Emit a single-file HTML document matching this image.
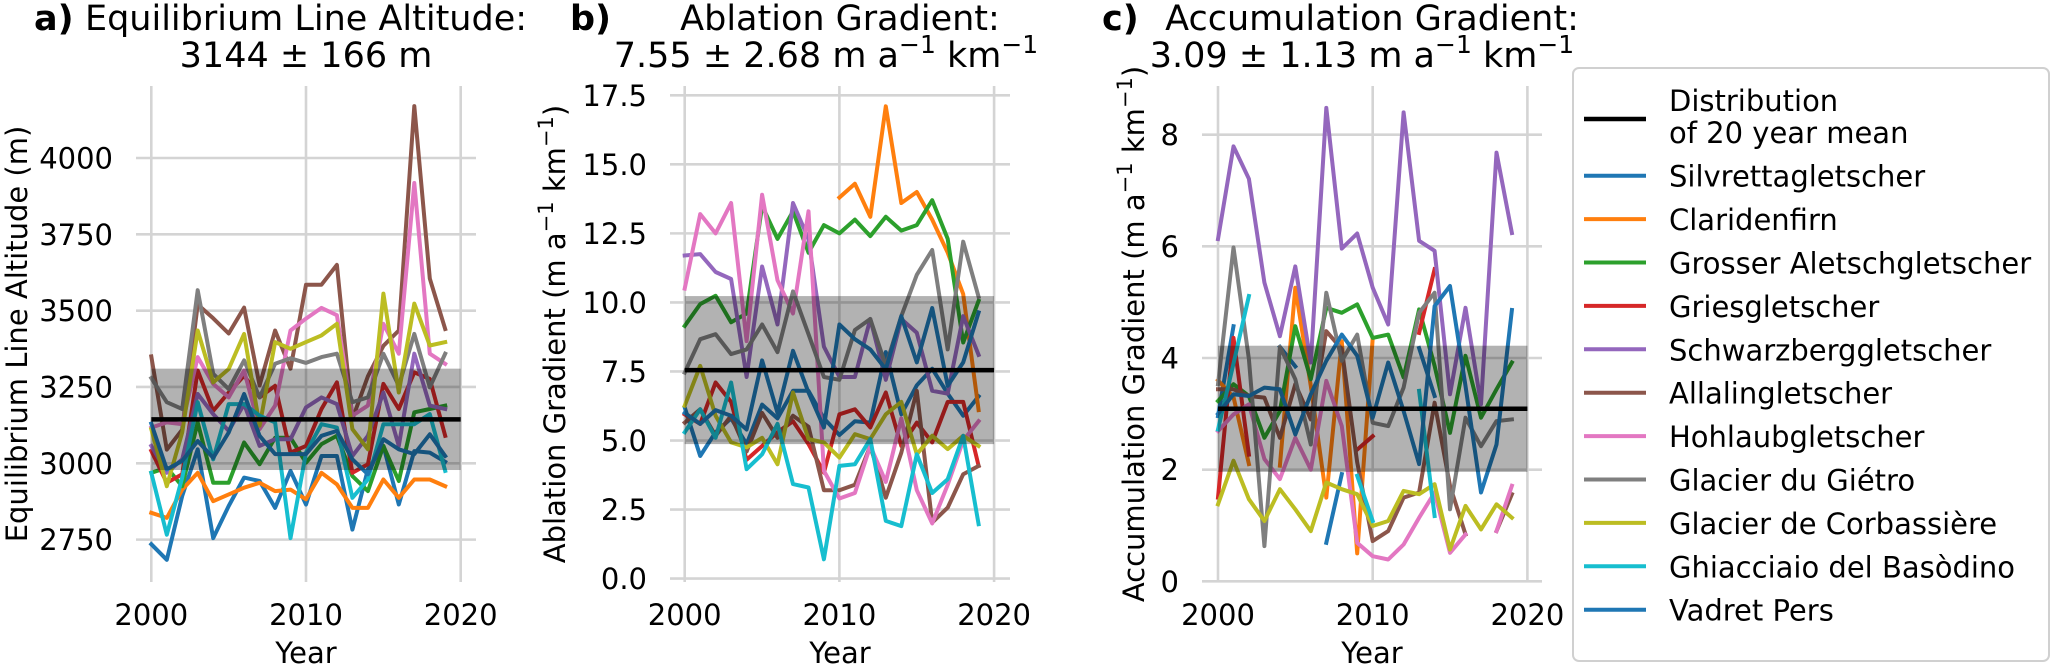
<!DOCTYPE html>
<html><head><meta charset="utf-8"><style>
html,body{margin:0;padding:0;background:#fff;}
svg{display:block;font-family:"DejaVu Sans","Liberation Sans",sans-serif;}
</style></head><body>
<svg id="fig" width="2051" height="666" viewBox="0 0 2051 666" xmlns="http://www.w3.org/2000/svg">
  <g font-size="35">
    <text x="34" y="30" font-weight="bold">a)</text>
    <text x="306" y="30" text-anchor="middle">Equilibrium Line Altitude:</text>
    <text x="306" y="67" text-anchor="middle">3144 ± 166 m</text>
  </g>
  <g font-size="35">
    <text x="570" y="30" font-weight="bold">b)</text>
    <text x="840" y="30" text-anchor="middle">Ablation Gradient:</text>
    <text x="826" y="67" text-anchor="middle">7.55 ± 2.68 m a<tspan font-size="25" baseline-shift="super">−1</tspan> km<tspan font-size="25" baseline-shift="super">−1</tspan></text>
  </g>
  <g font-size="35">
    <text x="1102" y="30" font-weight="bold">c)</text>
    <text x="1372" y="30" text-anchor="middle">Accumulation Gradient:</text>
    <text x="1362" y="67" text-anchor="middle">3.09 ± 1.13 m a<tspan font-size="25" baseline-shift="super">−1</tspan> km<tspan font-size="25" baseline-shift="super">−1</tspan></text>
  </g>
  <text transform="translate(27,334) rotate(-90)" text-anchor="middle" font-size="29">Equilibrium Line Altitude (m)</text>
  <text transform="translate(565,334) rotate(-90)" text-anchor="middle" font-size="29">Ablation Gradient (m a<tspan font-size="21" baseline-shift="super">−1</tspan> km<tspan font-size="21" baseline-shift="super">−1</tspan>)</text>
  <text transform="translate(1144,334) rotate(-90)" text-anchor="middle" font-size="29">Accumulation Gradient (m a<tspan font-size="21" baseline-shift="super">−1</tspan> km<tspan font-size="21" baseline-shift="super">−1</tspan>)</text>
  <g id="plots"></g>
  <g id="legend">
    <rect x="1573" y="68" width="476" height="593" rx="6" fill="#fff" stroke="#d0d0d0" stroke-width="2"/>
    <line x1="1584" y1="119" x2="1646" y2="119" stroke="#000" stroke-width="4.5"/>
    <text x="1669" y="111" font-size="29">Distribution</text>
    <text x="1669" y="143" font-size="29">of 20 year mean</text>
  </g>
</svg>
<script>
const years = [2000,2001,2002,2003,2004,2005,2006,2007,2008,2009,2010,2011,2012,2013,2014,2015,2016,2017,2018,2019];
const glacierNames = ["Silvrettagletscher","Claridenfirn","Grosser Aletschgletscher","Griesgletscher","Schwarzberggletscher","Allalingletscher","Hohlaubgletscher","Glacier du Giétro","Glacier de Corbassière","Ghiacciaio del Basòdino","Vadret Pers"];
const glacierColors = ["#1f77b4","#ff7f0e","#2ca02c","#d62728","#9467bd","#8c564b","#e377c2","#7f7f7f","#bcbd22","#17becf","#1f77b4"];

// Panel a: ELA (m)
const elaSilvretta = [2735,2684,2893,3046,2755,2860,2953,2942,2854,2975,2865,3024,3024,2783,2980,3057,2865,3040,3035,3005];
const elaClariden = [2838,2821,2914,2969,2876,2898,2920,2936,2909,2914,2882,2969,2931,2854,2854,2947,2887,2947,2947,2925];
const elaAletsch = [2969,2986,2925,3134,2936,2936,3068,2997,3084,3084,3002,3063,3090,2958,2909,3057,2942,3167,3178,3189];
const elaGries = [3041,2936,2964,3304,3172,3232,3287,3216,3254,3035,3057,3178,3265,2969,2997,3260,3178,3298,3276,3090];
const elaSchwarzberg = [3057,2969,3013,3227,3161,3106,3194,3057,3079,3079,3183,3216,3194,3024,3090,3232,3057,3359,3189,3178];
const elaAllalin = [3350,3045,3110,3520,3475,3425,3510,3255,3435,3310,3585,3585,3650,3145,3285,3385,3435,4170,3605,3440];
const elaHohlaub = [3117,3134,3128,3348,3260,3216,3304,3112,3189,3435,3474,3509,3485,3156,3189,3457,3359,3918,3359,3326];
const elaGietro = [3279,3200,3178,3567,3293,3243,3337,3216,3326,3344,3329,3348,3359,3200,3216,3359,3254,3424,3249,3359];
const elaCorbassiere = [3112,2925,3101,3435,3265,3309,3424,3123,3397,3375,3397,3419,3457,3112,3046,3556,3232,3523,3386,3397];
const elaBasodino = [2969,2766,2953,3200,3013,3194,3194,3156,3134,2755,3035,3128,3117,2887,2947,3128,3128,3128,3161,2975];
const elaVadretPers = [3130,2980,3008,3073,3018,3101,3227,3090,3030,3030,3030,3090,3106,3013,2964,3079,3046,3030,3095,3024];
const elaStats = [3144,166];
const elaTicks = [2750,3000,3250,3500,3750,4000];
const elaTickLabels = ["2750","3000","3250","3500","3750","4000"];

// Panel b: ablation gradient
const abSilvretta = [6.2,4.44,5.3,5.8,4.87,6.3,5.8,6.8,6.8,5.8,5.2,5.7,5.65,8.2,5.95,7.0,7.6,6.7,5.9,6.6];
const abClariden = [null,null,null,null,null,null,null,null,null,null,13.8,14.3,13.1,17.1,13.6,14.0,13.0,11.8,10.3,6.1];
const abAletsch = [9.15,9.94,10.24,9.28,9.6,13.5,12.3,13.3,11.8,12.8,12.5,13.0,12.4,13.1,12.6,12.8,13.7,12.3,8.55,10.06];
const abGries = [5.95,5.6,7.1,6.4,4.3,4.8,5.3,5.7,4.87,3.84,5.95,6.13,5.47,6.74,4.8,5.65,4.93,6.4,6.4,4.08];
const abSchwarzberg = [11.7,11.75,11.1,10.85,7.3,11.3,9.2,13.6,12.3,8.4,7.3,7.3,9.4,7.2,9.4,8.9,6.8,6.7,9.5,8.1];
const abAllalin = [5.65,6.13,5.17,5.9,4.6,6.0,5.1,5.9,5.5,3.2,3.2,3.4,4.8,2.93,4.56,6.8,2.03,2.57,3.78,4.08];
const abHohlaub = [10.5,13.2,12.5,13.6,8.6,13.9,10.8,9.6,13.3,3.9,2.9,3.1,4.8,3.5,5.8,3.2,2.0,3.4,5.0,5.7];
const abGietro = [7.46,8.67,8.85,8.13,8.3,9.2,8.2,10.4,8.85,7.3,7.2,9.0,9.4,7.7,9.5,11.0,11.9,8.3,12.2,10.2];
const abCorbassiere = [6.26,7.7,5.9,4.93,4.75,5.1,4.14,6.74,5.05,4.93,4.38,5.23,5.05,5.95,6.4,4.5,5.17,4.69,5.17,4.8];
const abBasodino = [5.3,6.13,5.1,7.1,3.96,4.5,5.6,3.42,3.3,0.7,4.08,4.14,5.05,2.09,1.9,4.5,3.1,3.6,5.17,1.97];
const abVadretPers = [6.0,5.6,6.1,5.9,5.4,7.9,6.0,8.25,6.74,5.47,9.2,8.67,8.3,7.58,9.5,7.83,9.8,6.98,7.83,9.64];
const abStats = [7.55,2.68];
const abTicks = [0,2.5,5,7.5,10,12.5,15,17.5];
const abTickLabels = ["0.0","2.5","5.0","7.5","10.0","12.5","15.0","17.5"];

// Panel c: accumulation gradient
const acSilvretta = [2.96,4.57,null,null,4.2,3.85,null,0.69,1.92,null,null,null,null,4.18,3.32,null,null,null,null,null];
const acClariden = [3.6,3.3,2.1,null,2.07,5.26,3.5,1.5,4.3,0.5,4.35,null,null,null,null,null,null,null,null,null];
const acAletsch = [3.23,3.53,3.32,2.57,3.05,4.57,3.62,4.9,4.81,4.96,4.36,4.42,3.65,4.87,3.86,2.66,4.04,2.93,3.44,3.92];
const acGries = [1.5,4.36,2.27,null,null,null,null,null,null,2.36,2.6,null,null,4.45,5.59,null,null,null,null,null];
const acSchwarzberg = [6.13,7.79,7.21,5.35,4.39,5.64,3.92,8.48,5.96,6.23,5.26,4.6,8.4,6.1,5.92,3.35,4.9,3.17,7.68,6.24];
const acAllalin = [3.44,3.44,3.32,3.29,2.57,3.53,2.9,4.48,4.16,2.13,0.72,0.9,1.5,1.59,3.2,1.71,0.84,null,0.9,1.56];
const acHohlaub = [2.69,2.99,3.17,2.19,1.83,2.57,2.0,3.59,2.78,0.69,0.45,0.39,0.66,1.14,1.59,0.51,0.84,null,0.9,1.71];
const acGietro = [3.53,5.98,3.98,0.63,4.2,3.62,2.45,5.17,3.95,4.42,2.84,2.78,3.47,4.81,5.17,1.29,2.93,2.42,2.87,2.9];
const acCorbassiere = [1.38,2.16,1.47,1.08,1.65,1.29,0.9,1.77,1.65,1.56,0.99,1.08,1.62,1.56,1.74,0.57,1.35,0.93,1.38,1.14];
const acBasodino = [2.72,3.9,5.11,null,null,null,null,null,null,1.89,1.08,null,null,3.41,1.17,null,null,null,null,null];
const acVadretPers = [3.0,3.35,3.32,3.47,3.44,2.63,3.35,3.95,4.42,4.04,2.93,3.92,3.05,2.1,4.93,5.29,3.5,1.59,2.45,4.86];
const acStats = [3.09,1.13];
const acTicks = [0,2,4,6,8];
const acTickLabels = ["0","2","4","6","8"];

const xTicks = [2000,2010,2020];
const xTickLabels = ["2000","2010","2020"];

const NS = "http://www.w3.org/2000/svg";
const plots = document.getElementById("plots");
function mk(tag, attrs, parent){ const e=document.createElementNS(NS,tag); for(const k in attrs) e.setAttribute(k,attrs[k]); (parent||plots).appendChild(e); return e; }

const panels = [
  {id:"a", left:136, right:476, x0:151.3, v0:3000, y0:463.3, v1:4000, y1:158.0,
   series:[elaSilvretta,elaClariden,elaAletsch,elaGries,elaSchwarzberg,elaAllalin,elaHohlaub,elaGietro,elaCorbassiere,elaBasodino,elaVadretPers],
   stats:elaStats, ticks:elaTicks, labels:elaTickLabels},
  {id:"b", left:670, right:1010, x0:684.7, v0:0, y0:578.6, v1:17.5, y1:95.3,
   series:[abSilvretta,abClariden,abAletsch,abGries,abSchwarzberg,abAllalin,abHohlaub,abGietro,abCorbassiere,abBasodino,abVadretPers],
   stats:abStats, ticks:abTicks, labels:abTickLabels},
  {id:"c", left:1202, right:1542, x0:1218, v0:0, y0:581.3, v1:8, y1:134.7,
   series:[acSilvretta,acClariden,acAletsch,acGries,acSchwarzberg,acAllalin,acHohlaub,acGietro,acCorbassiere,acBasodino,acVadretPers],
   stats:acStats, ticks:acTicks, labels:acTickLabels}
];
const TOP=86, BOTTOM=582, PXYR=15.47;

panels.forEach(p=>{
  const g = mk("g",{});
  
  
  const xs = yr => p.x0 + (yr-2000)*PXYR;
  const ys = v => p.y0 + (v-p.v0)*(p.y1-p.y0)/(p.v1-p.v0);
  p.ticks.forEach((t,i)=>{
    const y = ys(t);
    const gl = mk("line",{x1:p.left,x2:p.right,y1:y,y2:y,stroke:"#d4d4d4","stroke-width":2.6},g);
    
    
    const tl = mk("text",{x:p.left-23,y:y+10.5,"text-anchor":"end","font-size":29},g);
    tl.textContent = p.labels[i];
    
    
  });
  xTicks.forEach((t,i)=>{
    const x = xs(t);
    const gl = mk("line",{x1:x,x2:x,y1:TOP,y2:BOTTOM,stroke:"#d4d4d4","stroke-width":2.6},g);
    
    
    const tl = mk("text",{x:x,y:625,"text-anchor":"middle","font-size":29},g);
    tl.textContent = xTickLabels[i];
    
    
  });
  const xl = mk("text",{x:(p.left+p.right)/2,y:663,"text-anchor":"middle","font-size":29},g);
  xl.textContent = "Year";
  
  
  p.series.forEach((vals,si)=>{
    let segs=[], cur=[];
    vals.forEach((v,i)=>{ if(v===null){ if(cur.length) segs.push(cur); cur=[]; } else cur.push(xs(years[i]).toFixed(1)+","+ys(v).toFixed(1)); });
    if(cur.length) segs.push(cur);
    const d = segs.map(s=> s.length===1 ? "M"+s[0]+"h0.1" : "M"+s.join("L")).join(" ");
    const path = mk("path",{d:d,fill:"none",stroke:glacierColors[si],"stroke-width":4,"stroke-linejoin":"round","stroke-linecap":"square"},g);
    
    
  });
  const m=p.stats[0], s=p.stats[1];
  const band = mk("rect",{x:xs(2000),y:ys(m+s),width:xs(2020)-xs(2000),height:ys(m-s)-ys(m+s),fill:"#000","fill-opacity":0.3},g);
  
  
  const ml = mk("line",{x1:xs(2000),x2:xs(2020),y1:ys(m),y2:ys(m),stroke:"#000","stroke-width":4.5},g);
  
  
});

const legend = document.getElementById("legend");
glacierNames.forEach((n,i)=>{
  const y = 175.7 + 43.4*i;
  const h = mk("line",{x1:1584,x2:1646,y1:y,y2:y,stroke:glacierColors[i],"stroke-width":4},legend);
  
  
  const t = mk("text",{x:1669,y:y+11,"font-size":29},legend);
  t.textContent = n;
  
  
});
</script>
</body></html>
